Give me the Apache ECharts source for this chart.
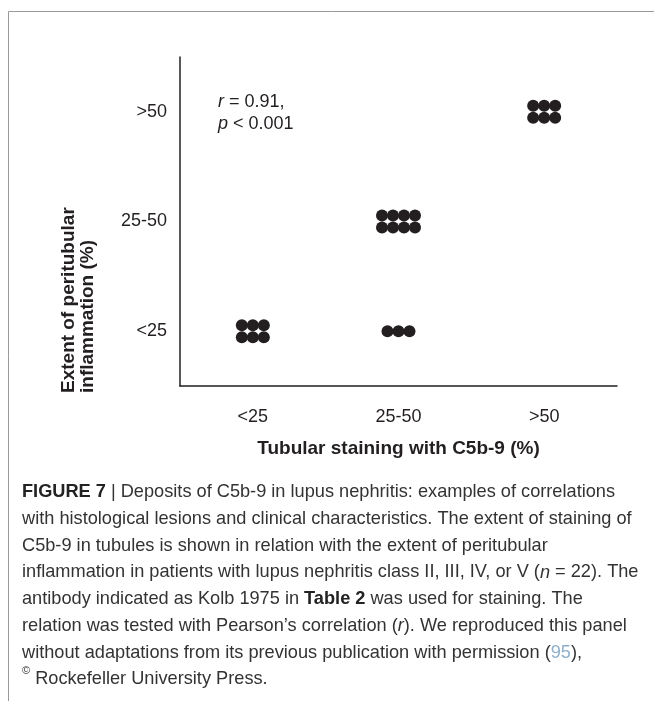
<!DOCTYPE html>
<html>
<head>
<meta charset="utf-8">
<script src="https://cdn.jsdelivr.net/npm/echarts@6/dist/echarts.min.js"></script>
<style>
html,body{margin:0;padding:0;background:#fff;}
#chart{width:654px;height:701px;}
</style>
</head>
<body>
<div id="chart"></div>
<script>
// Axis categories (tick labels)
const xCategories = ['<25', '25-50', '>50'];
const yCategories = ['<25', '25-50', '>50'];
// Clusters of patients: x category, y category, number of dots
const clusterX = ['<25', '25-50', '25-50', '>50'];
const clusterY = ['<25', '<25', '25-50', '>50'];
const clusterCount = [6, 3, 8, 6];

const xTitle = 'Tubular staining with C5b-9 (%)';
const yTitle = ['Extent of peritubular', 'inflammation (%)'];

const FONT = 'Liberation Sans, Arial, Helvetica, sans-serif';
const INK = '#231f20';

// build dots: each dot belongs to a cluster, laid out in small rows
const DX = 11, DY = 12;
const points = [];
clusterCount.forEach(function (n, i) {
  const rows = n > 4 ? 2 : 1;
  const cols = Math.ceil(n / rows);
  for (let k = 0; k < n; k++) {
    const r = Math.floor(k / cols), c = k % cols;
    points.push({
      value: [clusterX[i], clusterY[i]],
      symbolOffset: [(c - (cols - 1) / 2) * DX, (r - (rows - 1) / 2) * DY]
    });
  }
});

const chart = echarts.init(document.getElementById('chart'), null, {renderer: 'canvas'});

const captionLines = [
  '{b|FIGURE 7} | Deposits of C5b-9 in lupus nephritis: examples of correlations',
  'with histological lesions and clinical characteristics. The extent of staining of',
  'C5b-9 in tubules is shown in relation with the extent of peritubular',
  'inflammation in patients with lupus nephritis class II, III, IV, or V ({i|n} = 22). The',
  'antibody indicated as Kolb 1975 in {b|Table 2} was used for staining. The',
  'relation was tested with Pearson\u2019s correlation ({i|r}). We reproduced this panel',
  'without adaptations from its previous publication with permission ({l|95}),',
  '{s|\u00a9} Rockefeller University Press.'
];
const CF = 18.2;

const option = {
  backgroundColor: '#fff',
  animation: false,
  grid: {left: 180, right: 37, top: 57, bottom: 315, containLabel: false},
  xAxis: {
    type: 'category',
    data: xCategories,
    boundaryGap: true,
    axisLine: {show: true, lineStyle: {color: INK, width: 1.5}},
    axisTick: {show: false},
    splitLine: {show: false},
    axisLabel: {fontSize: 18, color: INK, margin: 22, fontFamily: FONT},
    name: xTitle,
    nameLocation: 'middle',
    nameGap: 53,
    nameTextStyle: {fontSize: 19, fontWeight: 'bold', color: INK, fontFamily: FONT}
  },
  yAxis: {
    type: 'category',
    data: yCategories,
    boundaryGap: true,
    axisLine: {show: true, lineStyle: {color: INK, width: 1.5}},
    axisTick: {show: false},
    splitLine: {show: false},
    axisLabel: {fontSize: 18, color: INK, margin: 13, fontFamily: FONT}
  },
  series: [{
    type: 'scatter',
    symbol: 'circle',
    symbolSize: 12,
    itemStyle: {color: INK, opacity: 1},
    data: points
  }],
  graphic: [
    // outer frame (top and left)
    {type: 'line', shape: {x1: 8.5, y1: 11.5, x2: 654, y2: 11.5}, style: {stroke: '#9a9a9a', lineWidth: 1}},
    {type: 'line', shape: {x1: 8.5, y1: 11.5, x2: 8.5, y2: 701}, style: {stroke: '#9a9a9a', lineWidth: 1}},
    // y axis title, rotated
    {
      type: 'text', x: 78, y: 393, rotation: Math.PI / 2,
      style: {
        text: yTitle.join('\n'), fontSize: 19, fontWeight: 'bold', fill: INK,
        fontFamily: FONT, align: 'left', verticalAlign: 'middle', lineHeight: 19
      }
    },
    // correlation annotation
    {
      type: 'text', x: 218, y: 113,
      style: {
        text: '{i|r} = 0.91,\n{i|p} < 0.001',
        fontSize: 18, fill: INK, fontFamily: FONT, align: 'left', verticalAlign: 'middle', lineHeight: 22,
        rich: {i: {fontStyle: 'italic', fontSize: 18, fontFamily: FONT, fill: INK}}
      }
    },
    // caption
    {
      type: 'text', x: 22, y: 479,
      style: {
        text: captionLines.join('\n'),
        fontSize: CF, fill: '#333', fontFamily: FONT, align: 'left', verticalAlign: 'top', lineHeight: 26.7,
        rich: {
          b: {fontWeight: 'bold', fontSize: CF, fontFamily: FONT, fill: '#222', lineHeight: 26.7},
          i: {fontStyle: 'italic', fontSize: CF, fontFamily: FONT, fill: '#333', lineHeight: 26.7},
          l: {fontSize: CF, fontFamily: FONT, fill: '#8fb0cc', lineHeight: 26.7},
          s: {fontSize: 11, fontFamily: FONT, fill: '#333', verticalAlign: 'top', lineHeight: 26.7}
        }
      }
    }
  ]
};
chart.setOption(option);
</script>
</body>
</html>
